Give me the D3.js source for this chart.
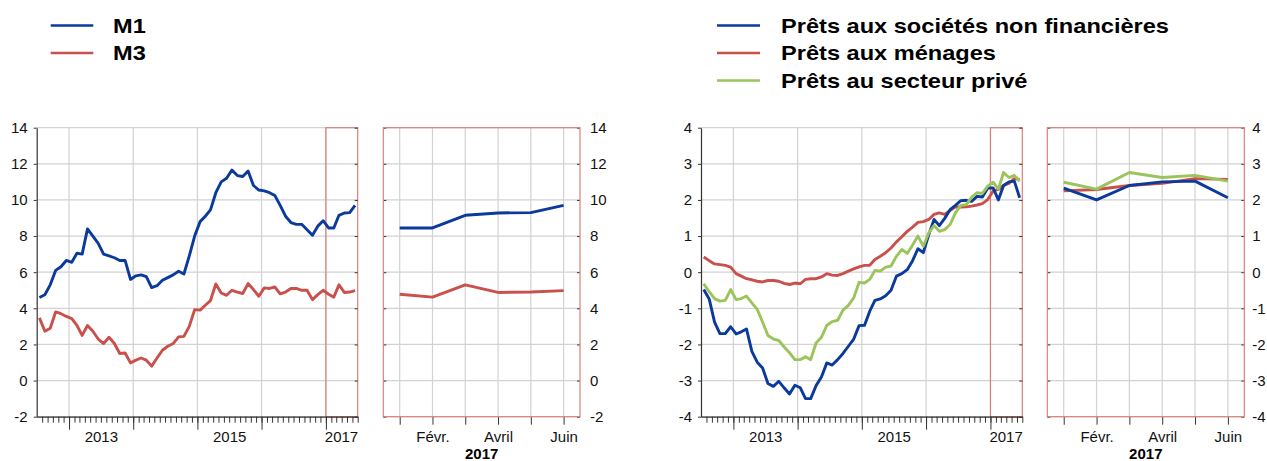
<!DOCTYPE html>
<html>
<head>
<meta charset="utf-8">
<script src="https://cdn.jsdelivr.net/npm/d3@7"></script>
<style>
body { margin: 0; background: #fff; }
svg  { display: block; font-family: "Liberation Sans", Arial, sans-serif; }
</style>
</head>
<body>
<svg id="chart" width="1267" height="461"></svg>
<script>
/* Data: monthly, July 2012 -> June 2017 */

var M1 = [4.6,4.75,5.3,6.1,6.3,6.65,6.55,7.05,7.0,8.4,
          8.0,7.6,7.0,6.9,6.8,6.65,6.65,5.6,5.8,5.85,
          5.75,5.15,5.25,5.55,5.7,5.85,6.05,5.9,6.9,8.0,
          8.8,9.1,9.45,10.4,11.0,11.2,11.65,11.35,11.3,11.6,
          10.8,10.55,10.5,10.4,10.25,9.7,9.1,8.75,8.65,8.65,
          8.35,8.05,8.55,8.85,8.45,8.45,9.15,9.28,9.3,9.7];

var M3 = [3.47,2.73,2.9,3.8,3.7,3.55,3.43,3.05,2.5,3.05,
          2.73,2.3,2.05,2.4,2.05,1.5,1.53,0.98,1.13,1.25,
          1.13,0.8,1.25,1.68,1.9,2.05,2.42,2.45,3.0,3.93,
          3.9,4.17,4.43,5.35,4.85,4.72,5.0,4.9,4.82,5.37,
          5.04,4.67,5.13,5.1,5.18,4.8,4.9,5.1,5.1,5.0,
          5.0,4.48,4.76,5.0,4.78,4.62,5.3,4.88,4.9,4.98];

var PRETS_SNF = [-0.48,-0.74,-1.38,-1.7,-1.7,-1.51,-1.71,-1.65,-1.57,-2.19,
                 -2.49,-2.65,-3.08,-3.16,-3.02,-3.2,-3.37,-3.13,-3.2,-3.5,
                 -3.5,-3.14,-2.9,-2.51,-2.57,-2.42,-2.25,-2.05,-1.85,-1.48,
                 -1.47,-1.08,-0.78,-0.74,-0.65,-0.5,-0.11,-0.04,0.07,0.32,
                 0.65,0.54,1.04,1.46,1.29,1.49,1.73,1.85,1.98,1.99,
                 1.96,2.1,2.08,2.33,2.33,2.0,2.4,2.5,2.52,2.06];

var PRETS_MENAGES = [0.42,0.32,0.23,0.21,0.19,0.14,-0.04,-0.11,-0.18,-0.21,
                     -0.25,-0.27,-0.23,-0.23,-0.25,-0.31,-0.34,-0.3,-0.32,-0.2,
                     -0.18,-0.18,-0.13,-0.04,-0.08,-0.09,-0.04,0.03,0.09,0.15,
                     0.19,0.19,0.35,0.44,0.54,0.67,0.84,0.98,1.13,1.25,
                     1.38,1.4,1.46,1.6,1.64,1.6,1.71,1.81,1.8,1.81,
                     1.83,1.86,1.9,2.01,2.25,2.29,2.4,2.46,2.59,2.57];

var PRETS_PRIVE = [-0.32,-0.54,-0.73,-0.8,-0.78,-0.48,-0.76,-0.73,-0.66,-0.85,
                   -1.03,-1.38,-1.75,-1.85,-1.89,-2.07,-2.23,-2.42,-2.42,-2.34,
                   -2.42,-1.96,-1.8,-1.47,-1.37,-1.33,-1.05,-0.92,-0.71,-0.28,
                   -0.3,-0.2,0.05,0.03,0.14,0.17,0.44,0.63,0.52,0.75,
                   1.0,0.72,1.09,1.29,1.13,1.18,1.32,1.64,1.85,1.87,
                   2.08,2.2,2.18,2.38,2.49,2.3,2.76,2.62,2.68,2.52];

/* Labels */

var ZOOM_MONTHS   = ["Janv.","Févr.","Mars","Avril","Mai","Juin"];
var ZOOM_SHOWN    = ["Févr.","Avril","Juin"];
var ZOOM_YEAR     = "2017";
var LEFT_TICKS    = [-2,0,2,4,6,8,10,12,14];
var RIGHT_TICKS   = [-4,-3,-2,-1,0,1,2,3,4];
var LEFT_LEGEND   = ["M1","M3"];
var RIGHT_LEGEND  = ["Prêts aux sociétés non financières","Prêts aux ménages","Prêts au secteur privé"];

/* Colours */

var BLUE  = "#0b3a9c",
    RED   = "#c9504b",
    GREEN = "#9cc45c",
    FRAME = "#dc7f7b",
    GRID  = "#d2d2d2",
    AXIS  = "#333";

/* Measures */

var TOP    = 127.7,
    BOTTOM = 416.7;

var START = new Date(2012, 6, 1),
    END   = new Date(2017, 6, 1),
    CUT   = new Date(2017, 0, 1);

var months = d3.timeMonth.range(START, END);

var svg = d3.select("#chart");

function midMonth(m) {
	return new Date((+m + +d3.timeMonth.offset(m, 1)) / 2);
}

/* plain hyphen for negatives, as in the original */
function num(d) { return String(d); }

function hLines(g, y, ticks, x0, x1) {
	g.selectAll(null).data(ticks).enter().append("line")
		.attr("x1", x0).attr("x2", x1)
		.attr("y1", function(d) { return y(d); })
		.attr("y2", function(d) { return y(d); })
		.attr("stroke", GRID).attr("stroke-width", 1.2);
}

function drawPanel(cfg) {
	var g = svg.append("g");
	var x = d3.scaleTime([START, END], [cfg.x0, cfg.x1]);
	var y = d3.scaleLinear(cfg.domain, [BOTTOM, TOP]);

	/* grid */
	hLines(g, y, cfg.ticks, cfg.x0, cfg.x1);
	g.selectAll(null).data(d3.timeYear.range(new Date(2013, 0, 1), END)).enter().append("line")
		.attr("x1", function(d) { return x(d); }).attr("x2", function(d) { return x(d); })
		.attr("y1", TOP).attr("y2", BOTTOM)
		.attr("stroke", GRID).attr("stroke-width", 1.2);

	/* 2017 highlight */
	g.append("rect")
		.attr("x", x(CUT)).attr("y", TOP)
		.attr("width", cfg.x1 - x(CUT)).attr("height", BOTTOM - TOP)
		.attr("fill", "none").attr("stroke", FRAME).attr("stroke-width", 1.2);

	/* left axis */
	var ya = g.append("g").attr("transform", "translate(" + cfg.x0 + ",0)")
		.call(d3.axisLeft(y).tickValues(cfg.ticks).tickSize(3).tickSizeOuter(0).tickPadding(6).tickFormat(num));
	ya.select(".domain").attr("stroke", AXIS).attr("stroke-width", 1.2);
	ya.selectAll(".tick line").attr("stroke", AXIS);
	ya.selectAll("text").attr("font-size", 15).attr("fill", "#111");

	/* inner ticks on the right edge */
	var yr = g.append("g").attr("transform", "translate(" + cfg.x1 + ",0)")
		.call(d3.axisLeft(y).tickValues(cfg.ticks).tickSize(3).tickFormat(""));
	yr.select(".domain").remove();
	yr.selectAll(".tick line").attr("stroke", AXIS);

	/* bottom axis: months, years, labels */
	var xm = g.append("g").attr("transform", "translate(0," + BOTTOM + ")")
		.call(d3.axisBottom(x).tickValues(months.slice(1).concat([END])).tickSize(6).tickSizeOuter(0).tickFormat(""));
	xm.select(".domain").attr("stroke", AXIS).attr("stroke-width", 1.2);
	xm.selectAll(".tick line").attr("stroke", AXIS);

	var xy = g.append("g").attr("transform", "translate(0," + BOTTOM + ")")
		.call(d3.axisBottom(x).ticks(d3.timeYear.every(1)).tickSize(13).tickFormat(""));
	xy.select(".domain").remove();
	xy.selectAll(".tick line").attr("stroke", AXIS);

	var yearLabels = [new Date(2013, 6, 1), new Date(2015, 6, 1), END];
	var xl = g.append("g").attr("transform", "translate(0," + BOTTOM + ")")
		.call(d3.axisBottom(x).tickValues(yearLabels).tickSize(0).tickPadding(15)
			.tickFormat(function(d) { return +d === +END ? "2017" : d3.timeFormat("%Y")(d); }));
	xl.select(".domain").remove();
	xl.selectAll("text").attr("font-size", 15).attr("fill", "#111")
		.attr("text-anchor", function(d) { return +d === +END ? "end" : "middle"; });

	/* series */
	var line = d3.line()
		.x(function(d, i) { return x(midMonth(months[i])); })
		.y(function(d) { return y(d); });
	cfg.series.forEach(function(s) {
		g.append("path").datum(s.values)
			.attr("d", line)
			.attr("fill", "none").attr("stroke", s.color)
			.attr("stroke-width", 2.9).attr("stroke-linejoin", "round");
	});

	/* zoom on 2017 */
	var zx = d3.scalePoint(ZOOM_MONTHS, [cfg.zx0, cfg.zx1]).padding(0.5);
	var z = svg.append("g");
	hLines(z, y, cfg.ticks, cfg.zx0, cfg.zx1);
	z.selectAll(null).data(ZOOM_MONTHS).enter().append("line")
		.attr("x1", function(d) { return zx(d); }).attr("x2", function(d) { return zx(d); })
		.attr("y1", TOP).attr("y2", BOTTOM)
		.attr("stroke", GRID).attr("stroke-width", 1.2);

	var zl = z.append("g").attr("transform", "translate(" + cfg.zx0 + ",0)")
		.call(d3.axisRight(y).tickValues(cfg.ticks).tickSize(3).tickFormat(""));
	zl.select(".domain").remove();
	zl.selectAll(".tick line").attr("stroke", AXIS);

	var zr = z.append("g").attr("transform", "translate(" + cfg.zx1 + ",0)")
		.call(d3.axisLeft(y).tickValues(cfg.ticks).tickSize(3).tickFormat(""));
	zr.select(".domain").remove();
	zr.selectAll(".tick line").attr("stroke", AXIS);

	var zt = z.append("g").attr("transform", "translate(" + cfg.zx1 + ",0)")
		.call(d3.axisRight(y).tickValues(cfg.ticks).tickSize(0).tickPadding(cfg.labelPad).tickFormat(num));
	zt.select(".domain").remove();
	zt.selectAll("text").attr("font-size", 15).attr("fill", "#111");

	var zb = z.append("g").attr("transform", "translate(0," + BOTTOM + ")")
		.call(d3.axisBottom(zx).tickSize(8).tickPadding(7)
			.tickFormat(function(d) { return ZOOM_SHOWN.indexOf(d) >= 0 ? d : ""; }));
	zb.select(".domain").remove();
	zb.selectAll(".tick line").attr("stroke", AXIS);
	zb.selectAll("text").attr("font-size", 15).attr("fill", "#111");

	z.append("text")
		.attr("x", (cfg.zx0 + cfg.zx1) / 2).attr("y", 459)
		.attr("text-anchor", "middle").attr("font-size", 15).attr("font-weight", "bold")
		.text(ZOOM_YEAR);

	z.append("rect")
		.attr("x", cfg.zx0).attr("y", TOP)
		.attr("width", cfg.zx1 - cfg.zx0).attr("height", BOTTOM - TOP)
		.attr("fill", "none").attr("stroke", FRAME).attr("stroke-width", 1.2);

	var zline = d3.line()
		.x(function(d, i) { return zx(ZOOM_MONTHS[i]); })
		.y(function(d) { return y(d); });
	cfg.series.forEach(function(s) {
		z.append("path").datum(s.values.slice(-6))
			.attr("d", zline)
			.attr("fill", "none").attr("stroke", s.color)
			.attr("stroke-width", 2.9).attr("stroke-linejoin", "round");
	});
}

function drawLegend(names, colors, lx0, lx1, tx, ys) {
	var g = svg.append("g");
	names.forEach(function(n, i) {
		g.append("line")
			.attr("x1", lx0).attr("x2", lx1).attr("y1", ys[i]).attr("y2", ys[i])
			.attr("stroke", colors[i]).attr("stroke-width", 2.5);
		g.append("text")
			.attr("transform", "translate(" + tx + "," + (ys[i] + 7) + ") scale(1.18,1)")
			.attr("font-size", 20).attr("font-weight", "bold").attr("fill", "#000")
			.text(n);
	});
}

drawPanel({
	x0: 36.7, x1: 357.7, zx0: 383.3, zx1: 580, labelPad: 10,
	domain: [-2, 14], ticks: LEFT_TICKS,
	series: [{values: M1, color: BLUE}, {values: M3, color: RED}]
});

drawPanel({
	x0: 701, x1: 1022.3, zx0: 1047.3, zx1: 1244.3, labelPad: 8,
	domain: [-4, 4], ticks: RIGHT_TICKS,
	series: [{values: PRETS_MENAGES, color: RED}, {values: PRETS_SNF, color: BLUE}, {values: PRETS_PRIVE, color: GREEN}]
});

drawLegend(LEFT_LEGEND, [BLUE, RED], 50.7, 93.3, 113, [25.5, 53]);
drawLegend(RIGHT_LEGEND, [BLUE, RED, GREEN], 717, 760, 781, [25.5, 53, 80.5]);
</script>
</body>
</html>
